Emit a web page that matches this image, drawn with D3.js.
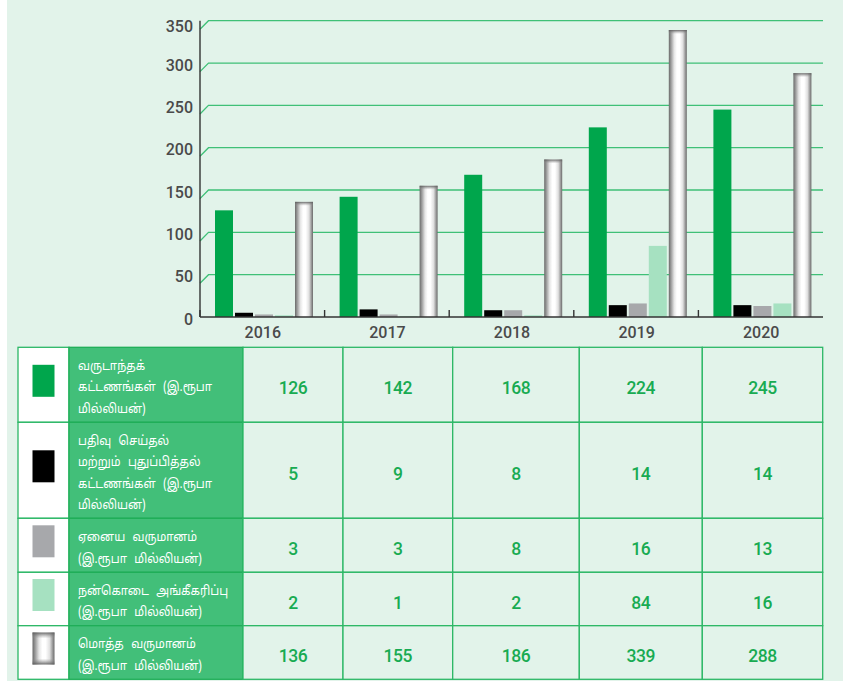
<!DOCTYPE html>
<html>
<head>
<meta charset="utf-8">
<script src="https://cdn.jsdelivr.net/npm/d3@7"></script>
<style>
  html, body { margin: 0; padding: 0; background: #ffffff; }
  svg { display: block; }
</style>
</head>
<body>
<svg id="chart" width="843" height="681"></svg>
<script>
// Years on the x axis
const years = ["2016", "2017", "2018", "2019", "2020"];

// Income series (Rs. million)
const annualFees     = [126, 142, 168, 224, 245];
const regRenewFees   = [5, 9, 8, 14, 14];
const otherIncome    = [3, 3, 8, 16, 13];
const grantsAccepted = [2, 1, 2, 84, 16];
const totalIncome    = [136, 155, 186, 339, 288];

// Y axis ticks
const yTicks = [0, 50, 100, 150, 200, 250, 300, 350];

// Row labels for the data table (one entry per text line)
const seriesLabels = [
  ["வருடாந்தக்", "கட்டணங்கள் (இ.ரூபா", "மில்லியன்)"],
  ["பதிவு செய்தல்", "மற்றும் புதுப்பித்தல்", "கட்டணங்கள் (இ.ரூபா", "மில்லியன்)"],
  ["ஏனைய வருமானம்", "(இ.ரூபா மில்லியன்)"],
  ["நன்கொடை அங்கீகரிப்பு", "(இ.ரூபா மில்லியன்)"],
  ["மொத்த வருமானம்", "(இ.ரூபா மில்லியன்)"]
];

const seriesValues = [annualFees, regRenewFees, otherIncome, grantsAccepted, totalIncome];
const seriesKeys = ["annual", "reg", "other", "grant", "total"];
const seriesFill = {
  annual: "#00a64c",
  reg: "#000000",
  other: "#a7a8ab",
  grant: "#a6e1c1",
  total: "url(#cyl)"
};

const svg = d3.select("#chart");
const BG = "#e2f3ea";
const GRID = "#3fc077";
const TABLE_LINE = "#2cb766";

// page background with a narrow white strip on the left
svg.append("rect").attr("x", 7).attr("y", 0).attr("width", 836).attr("height", 681).attr("fill", BG);

// gradients for the cylinder-style total bars
const defs = svg.append("defs");
const cyl = defs.append("linearGradient").attr("id", "cyl").attr("x1", 0).attr("x2", 1).attr("y1", 0).attr("y2", 0);
[[0, "#6a6a6a"], [0.12, "#9a9a9a"], [0.3, "#e6e6e6"], [0.45, "#ffffff"], [0.6, "#ffffff"], [0.78, "#e0e0e0"], [0.9, "#a0a0a0"], [1, "#6a6a6a"]]
  .forEach(([o, c]) => cyl.append("stop").attr("offset", o).attr("stop-color", c));
const cap = defs.append("linearGradient").attr("id", "cap").attr("x1", 0).attr("x2", 0).attr("y1", 0).attr("y2", 1);
cap.append("stop").attr("offset", 0).attr("stop-color", "#5a5a5a").attr("stop-opacity", 0.9);
cap.append("stop").attr("offset", 1).attr("stop-color", "#999").attr("stop-opacity", 0);
const capBottom = defs.append("linearGradient").attr("id", "capB").attr("x1", 0).attr("x2", 0).attr("y1", 1).attr("y2", 0);
capBottom.append("stop").attr("offset", 0).attr("stop-color", "#5a5a5a").attr("stop-opacity", 0.9);
capBottom.append("stop").attr("offset", 1).attr("stop-color", "#999").attr("stop-opacity", 0);

// ---------- chart ----------
const x0 = d3.scaleBand().domain(years).range([200, 823]).padding(0);
const x1 = d3.scaleBand().domain(seriesKeys).range([15, 113]).paddingInner(0.1);
const y = d3.scaleLinear().domain([0, 350]).range([317, 20.7]);

// gridlines with a slanted foot at the axis
const grid = svg.append("g");
yTicks.filter(t => t > 0).forEach(t => {
  const yy = y(t);
  grid.append("path")
    .attr("d", `M200,${yy + 8.6}L208.5,${yy}L823,${yy}`)
    .attr("fill", "none").attr("stroke", GRID).attr("stroke-width", 1.3);
});

// y axis labels
const yAxis = d3.axisLeft(y).tickValues(yTicks).tickSize(0).tickPadding(7);
const gy = svg.append("g").attr("transform", "translate(200,0)").call(yAxis);
gy.select(".domain").remove();
gy.selectAll("text")
  .attr("font-family", "Roboto, sans-serif").attr("font-size", 16).attr("font-weight", 500)
  .attr("fill", "#4a4a4a").attr("dy", d => d === 350 ? "0.7em" : "0.45em");

// bars
const groups = svg.append("g").selectAll("g").data(years).join("g")
  .attr("transform", d => `translate(${x0(d)},0)`);

groups.each(function (yr, i) {
  const g = d3.select(this);
  seriesKeys.forEach((k, s) => {
    const v = seriesValues[s][i];
    g.append("rect")
      .attr("x", x1(k)).attr("y", y(v))
      .attr("width", x1.bandwidth()).attr("height", y(0) - y(v))
      .attr("fill", seriesFill[k]);
    if (k === "total") {
      g.append("rect")
        .attr("x", x1(k)).attr("y", y(v))
        .attr("width", x1.bandwidth()).attr("height", 4)
        .attr("fill", "url(#cap)");
    }
  });
});

// x axis line and category ticks
svg.append("line").attr("x1", 200).attr("x2", 823).attr("y1", y(0)).attr("y2", y(0))
  .attr("stroke", "#333").attr("stroke-width", 1.5);
svg.append("line").attr("x1", 200).attr("x2", 200).attr("y1", y(350)).attr("y2", y(0))
  .attr("stroke", "#333").attr("stroke-width", 1.4);
years.forEach(yr => {
  svg.append("line").attr("x1", x0(yr)).attr("x2", x0(yr)).attr("y1", y(0) - 7).attr("y2", y(0))
    .attr("stroke", "#333").attr("stroke-width", 1.4);
});
svg.append("g").selectAll("text").data(years).join("text")
  .attr("x", d => x0(d) + x0.bandwidth() / 2 + 0.5).attr("y", 338)
  .attr("text-anchor", "middle")
  .attr("font-family", "Roboto, sans-serif").attr("font-size", 16).attr("font-weight", 500)
  .attr("fill", "#4a4a4a").text(d => d);

// ---------- data table ----------
const colEdges = [18, 69, 243, 343, 452.7, 579.3, 702.3, 822.7];
const rowEdges = [347.3, 422.3, 518.3, 572.3, 625.7, 679.3];
const table = svg.append("g");
const cellsLayer = table.append("g");
const textLayer = table.append("g");
const labelX = 78;

seriesKeys.forEach((k, r) => {
  const top = rowEdges[r], bot = rowEdges[r + 1], h = bot - top, mid = (top + bot) / 2;
  // swatch cell
  cellsLayer.append("rect").attr("x", colEdges[0]).attr("y", top).attr("width", colEdges[1] - colEdges[0]).attr("height", h)
    .attr("fill", "#ffffff").attr("stroke", TABLE_LINE).attr("stroke-width", 1.3);
  textLayer.append("rect").attr("x", 32.5).attr("y", mid - 20).attr("width", 22).attr("height", 32)
    .attr("fill", seriesFill[k]);
  if (k === "total") {
    textLayer.append("rect").attr("x", 32.5).attr("y", mid - 20).attr("width", 22).attr("height", 6)
      .attr("fill", "url(#cap)");
    textLayer.append("rect").attr("x", 32.5).attr("y", mid + 6).attr("width", 22).attr("height", 6)
      .attr("fill", "url(#capB)");
  }
  // label cell
  cellsLayer.append("rect").attr("x", colEdges[1]).attr("y", top).attr("width", colEdges[2] - colEdges[1]).attr("height", h)
    .attr("fill", "#42bf79").attr("stroke", "#1fae58").attr("stroke-width", 1.3);
  const lines = seriesLabels[r];
  const lh = 21.5;
  // labels are set slightly condensed, anchored at the left padding
  const t = textLayer.append("text")
    .attr("transform", `translate(${labelX},0) scale(0.88,1)`)
    .attr("font-family", "'Noto Sans Tamil', 'Latha', 'Noto Sans', sans-serif")
    .attr("font-size", 13).attr("fill", "#ffffff")
    .attr("word-spacing", 5);
  lines.forEach((ln, j) => {
    t.append("tspan").attr("x", 0).attr("y", mid + 3.5 + (j - (lines.length - 1) / 2) * lh)
      .attr("dominant-baseline", "central").text(ln);
  });
  // value cells
  years.forEach((yr, c) => {
    const xl = colEdges[c + 2], xr = colEdges[c + 3];
    cellsLayer.append("rect").attr("x", xl).attr("y", top).attr("width", xr - xl).attr("height", h)
      .attr("fill", BG).attr("stroke", TABLE_LINE).attr("stroke-width", 1.3);
    textLayer.append("text").attr("x", (xl + xr) / 2).attr("y", mid + 3.5)
      .attr("text-anchor", "middle").attr("dominant-baseline", "central")
      .attr("font-family", "Roboto, sans-serif").attr("font-size", 17.5).attr("font-weight", 500)
      .attr("fill", "#18ab52").attr("letter-spacing", -0.4)
      .text(seriesValues[r][c]);
  });
});
</script>
</body>
</html>
